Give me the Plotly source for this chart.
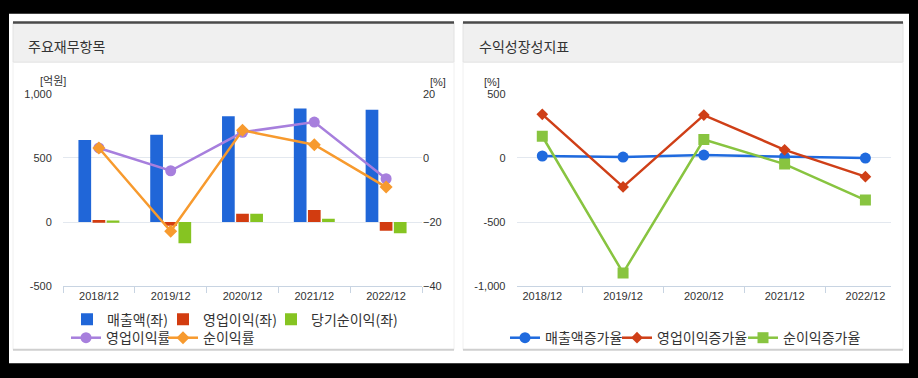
import plotly.graph_objects as go

# ---------------- data ----------------
categories = ['2018/12', '2019/12', '2020/12', '2021/12', '2022/12']

# left chart (억원, %)
revenue = [640, 680, 825, 885, 875]
op_income = [15, -30, 65, 93, -68]
net_income = [12, -165, 65, 25, -88]
op_margin = [3.1, -4.0, 8.0, 11.2, -6.5]
net_margin = [3.1, -22.9, 8.6, 4.1, -9.1]

# right chart (%)
rev_growth = [15, 7, 22, 8, -1]
op_growth = [340, -226, 334, 63, -146]
net_growth = [169, -897, 143, -48, -329]

left_ticks = [-500, 0, 500, 1000]
left_ticktext = ['-500', '0', '500', '1,000']
right_ticks = [-1000, -500, 0, 500]
right_ticktext = ['-1,000', '-500', '0', '500']

W, H = 918, 378
FONT = 'Noto Sans CJK KR'
NUMFONT = 'Liberation Sans, Noto Sans CJK KR'


def px(x):
    return x / W


def py(y):
    return 1 - y / H


fig = go.Figure()

# legend placement (symbol centre x, row y) per item
legend_pos = {}


def leg(key, cx, cy):
    legend_pos[key] = (cx, cy)
    return key


# ---- left chart: bars ----
bar_specs = [
    ('매출액(좌)', revenue, '#2066d8', leg('legend', 86, 324)),
    ('영업이익(좌)', op_income, '#d23c10', leg('legend2', 182, 324)),
    ('당기순이익(좌)', net_income, '#86c422', leg('legend3', 290, 324)),
]
for name, vals, col, lg in bar_specs:
    fig.add_trace(go.Bar(x=categories, y=vals, name=name, marker_color=col,
                         marker_line_width=0, xaxis='x', yaxis='y', legend=lg))

# ---- left chart: lines ----
fig.add_trace(go.Scatter(x=categories, y=op_margin, name='영업이익률', mode='lines+markers',
                         line=dict(color='#a77fdd', width=2.5),
                         marker=dict(symbol='circle', size=11, color='#a77fdd'),
                         xaxis='x', yaxis='y2', legend=leg('legend4', 85, 343)))
fig.add_trace(go.Scatter(x=categories, y=net_margin, name='순이익률', mode='lines+markers',
                         line=dict(color='#f79a2e', width=2.5),
                         marker=dict(symbol='diamond', size=10, color='#f79a2e'),
                         xaxis='x', yaxis='y2', legend=leg('legend5', 182, 343)))

# ---- right chart ----
fig.add_trace(go.Scatter(x=categories, y=rev_growth, name='매출액증가율', mode='lines+markers',
                         line=dict(color='#1f6ade', width=2.5),
                         marker=dict(symbol='circle', size=11, color='#1f6ade'),
                         xaxis='x2', yaxis='y3', legend=leg('legend6', 524, 343)))
fig.add_trace(go.Scatter(x=categories, y=op_growth, name='영업이익증가율', mode='lines+markers',
                         line=dict(color='#cf3f17', width=2.5),
                         marker=dict(symbol='diamond', size=9, color='#cf3f17'),
                         xaxis='x2', yaxis='y3', legend=leg('legend7', 636, 343)))
fig.add_trace(go.Scatter(x=categories, y=net_growth, name='순이익증가율', mode='lines+markers',
                         line=dict(color='#88c440', width=2.5),
                         marker=dict(symbol='square', size=11, color='#88c440'),
                         xaxis='x2', yaxis='y3', legend=leg('legend8', 762, 343)))

grid_col = '#e3e8ef'
axis_col = '#c8d4e2'
tick_font = dict(family=NUMFONT, size=11, color='#333')

ydom = [py(289.3), py(90.7)]

xaxis_common = dict(type='category', showgrid=False, showline=True, linecolor=axis_col,
                    linewidth=1, ticks='outside', tickson='boundaries', ticklen=6,
                    tickcolor=axis_col, tickfont=tick_font, zeroline=False, fixedrange=True)

fig.update_layout(
    width=W, height=H,
    margin=dict(l=0, r=0, t=0, b=0),
    paper_bgcolor='black',
    plot_bgcolor='white',
    barmode='group', bargap=0.41, bargroupgap=0.1,
    font=dict(family=FONT, color='#333'),
    xaxis=dict(domain=[px(63), px(422)], anchor='y', **xaxis_common),
    yaxis=dict(domain=ydom, range=[-500, 1000], tickvals=left_ticks, ticktext=left_ticktext,
               showgrid=True, gridcolor=grid_col, zeroline=False, showline=False,
               ticks='outside', ticklen=8, tickcolor='rgba(0,0,0,0)', tickfont=tick_font,
               anchor='x', fixedrange=True),
    yaxis2=dict(domain=ydom, range=[-40, 20], tickvals=[-40, -20, 0, 20], overlaying='y',
                side='right', showgrid=False, zeroline=False, showline=False, anchor='x',
                tickfont=tick_font, fixedrange=True),
    xaxis2=dict(domain=[px(516.7), px(891)], anchor='y3', **xaxis_common),
    yaxis3=dict(domain=ydom, range=[-1000, 500], tickvals=right_ticks, ticktext=right_ticktext,
                showgrid=True, gridcolor=grid_col, zeroline=False, showline=False,
                ticks='outside', ticklen=8, tickcolor='rgba(0,0,0,0)', tickfont=tick_font,
                anchor='x2', fixedrange=True),
    showlegend=True,
)

for key, (cx, cy) in legend_pos.items():
    fig.update_layout({key: dict(orientation='h', x=px(cx - 19), xanchor='left', y=py(cy),
                                 yanchor='middle', font=dict(family=FONT, size=14, color='#333'),
                                 bgcolor='rgba(0,0,0,0)', borderwidth=0,
                                 itemclick=False, itemdoubleclick=False)})

shapes = []
# white outer card
shapes.append(dict(type='rect', xref='paper', yref='paper', x0=px(9), x1=px(909),
                   y0=py(369), y1=py(8), fillcolor='white', line_width=0, layer='below'))
for (x0, x1) in [(13, 454), (463, 903)]:
    # header background
    shapes.append(dict(type='rect', xref='paper', yref='paper', x0=px(x0), x1=px(x1),
                       y0=py(58), y1=py(17), fillcolor='#f0f0f0',
                       line=dict(color='#e2e2e2', width=1), layer='below'))
    # dark top line
    shapes.append(dict(type='line', xref='paper', yref='paper', x0=px(x0), x1=px(x1),
                       y0=py(17), y1=py(17), line=dict(color='#4a4a4a', width=2.5), layer='below'))
    # faint side borders
    for xx in (x0, x1):
        shapes.append(dict(type='line', xref='paper', yref='paper', x0=px(xx), x1=px(xx),
                           y0=py(355), y1=py(58), line=dict(color='#f0f0f0', width=1),
                           layer='below'))
    # bottom line
    shapes.append(dict(type='line', xref='paper', yref='paper', x0=px(x0), x1=px(x1),
                       y0=py(355), y1=py(355), line=dict(color='#cfcfcf', width=2), layer='below'))
fig.update_layout(shapes=shapes)

ann = []
ann.append(dict(text='주요재무항목', x=px(26), y=py(41), xref='paper', yref='paper',
                xanchor='left', yanchor='middle', showarrow=False,
                font=dict(family=FONT, size=14, color='#333')))
ann.append(dict(text='수익성장성지표', x=px(477), y=py(41), xref='paper', yref='paper',
                xanchor='left', yanchor='middle', showarrow=False,
                font=dict(family=FONT, size=14, color='#333')))
ann.append(dict(text='[억원]', x=px(53), y=py(77), xref='paper', yref='paper',
                xanchor='center', yanchor='middle', showarrow=False,
                font=dict(family=NUMFONT, size=11, color='#333')))
ann.append(dict(text='[%]', x=px(438), y=py(78), xref='paper', yref='paper',
                xanchor='center', yanchor='middle', showarrow=False,
                font=dict(family=NUMFONT, size=11, color='#333')))
ann.append(dict(text='[%]', x=px(492), y=py(78), xref='paper', yref='paper',
                xanchor='center', yanchor='middle', showarrow=False,
                font=dict(family=NUMFONT, size=11, color='#333')))
fig.update_layout(annotations=ann)

fig.write_html('out.html', config={'displayModeBar': False},
               post_script="document.body.style.margin='0';document.body.style.background='black';")
